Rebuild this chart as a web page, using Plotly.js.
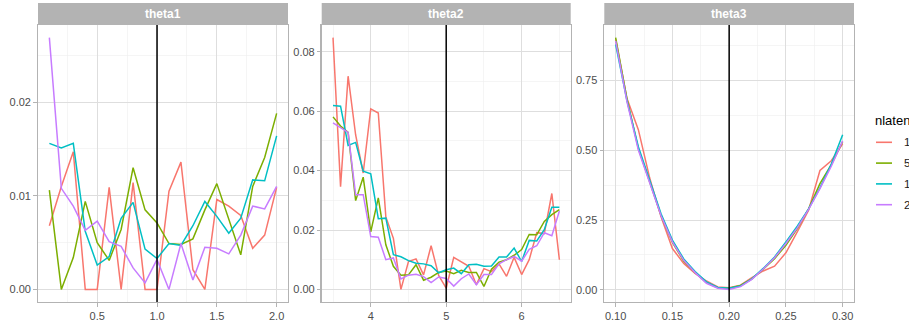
<!DOCTYPE html>
<html>
<head>
<meta charset="utf-8">
<script src="https://cdn.plot.ly/plotly-3.0.1.min.js"></script>
<style>html,body{margin:0;padding:0;background:#fff;}#chart{width:909px;height:322px;}</style>
</head>
<body>
<div id="chart"></div>
<script>
// ---------- data ----------
const nlatentLevels = ["1", "5", "10", "20"];
const seriesColors = ["#F8766D", "#7CAE00", "#00BFC4", "#C77CFF"];
const facetNames = ["theta1", "theta2", "theta3"];
const trueValues = [1, 5, 0.2];
const legendTitle = "nlatent";

const theta1X = [0.1,0.2,0.3,0.4,0.5,0.6,0.7,0.8,0.9,1.0,1.1,1.2,1.3,1.4,1.5,1.6,1.7,1.8,1.9,2.0];
const theta1_n1  = [0.0068,0.0110,0.0147,0,0,0.0109,0,0.0114,0,0,0.0105,0.0136,0.0021,0,0.0096,0.0089,0.0079,0.0044,0.0058,0.0109];
const theta1_n5  = [0.0106,0,0.0034,0.0094,0.0050,0.0031,0.0064,0.0130,0.0085,0.0071,0.0049,0.0048,0.0054,0.0085,0.0113,0.0075,0.0037,0.0110,0.0141,0.0188];
const theta1_n10 = [0.0156,0.0151,0.0156,0.0062,0.0026,0.0035,0.0076,0.0093,0.0043,0.0033,0.0049,0.0047,0.0068,0.0094,0.0078,0.0060,0.0076,0.0117,0.0116,0.0164];
const theta1_n20 = [0.0269,0.0108,0.0089,0.0063,0.0073,0.0051,0.0046,0.0023,0.0007,0.0032,0,0.0049,0.0010,0.0045,0.0044,0.0038,0.0058,0.0089,0.0086,0.0110];

const theta2X = [3.5,3.6,3.7,3.8,3.9,4.0,4.1,4.2,4.3,4.4,4.5,4.6,4.7,4.8,4.9,5.0,5.1,5.2,5.3,5.4,5.5,5.6,5.7,5.8,5.9,6.0,6.1,6.2,6.3,6.4,6.5];
const theta2_n1  = [0.0848,0.0346,0.0718,0.0520,0.0392,0.0608,0.0594,0.0244,0.0172,0.0000,0.0094,0.0103,0.0049,0.0147,0.0047,0.0004,0.0108,0.0092,0.0078,0.0016,0.0070,0.0060,0.0086,0.0044,0.0108,0.0050,0.0100,0.0191,0.0188,0.0323,0.0100];
const theta2_n5  = [0.0581,0.0550,0.0529,0.0299,0.0378,0.0194,0.0308,0.0150,0.0078,0.0048,0.0049,0.0083,0.0031,0.0041,0.0057,0.0062,0.0053,0.0064,0.0057,0.0057,0.0010,0.0068,0.0092,0.0100,0.0115,0.0134,0.0185,0.0184,0.0229,0.0252,0.0269];
const theta2_n10 = [0.0619,0.0617,0.0485,0.0495,0.0398,0.0389,0.0238,0.0240,0.0117,0.0110,0.0097,0.0088,0.0086,0.0080,0.0056,0.0066,0.0072,0.0053,0.0083,0.0085,0.0078,0.0079,0.0109,0.0109,0.0139,0.0094,0.0165,0.0163,0.0201,0.0277,0.0277];
const theta2_n20 = [0.0561,0.0544,0.0529,0.0319,0.0319,0.0178,0.0176,0.0100,0.0106,0.0035,0.0048,0.0051,0.0043,0.0023,0.0042,0.0037,0.0011,0.0036,0.0052,0.0016,0.0050,0.0050,0.0086,0.0100,0.0111,0.0095,0.0135,0.0147,0.0191,0.0181,0.0264];

const theta3X = [0.10,0.11,0.12,0.13,0.14,0.15,0.16,0.17,0.18,0.19,0.20,0.21,0.22,0.23,0.24,0.25,0.26,0.27,0.28,0.29,0.30];
const theta3_n1  = [0.896,0.684,0.573,0.400,0.262,0.148,0.095,0.059,0.032,0.011,0.008,0.017,0.044,0.068,0.085,0.133,0.208,0.285,0.427,0.462,0.522];
const theta3_n5  = [0.902,0.682,0.505,0.386,0.266,0.170,0.103,0.062,0.026,0.008,0.006,0.016,0.040,0.074,0.112,0.160,0.219,0.290,0.380,0.448,0.530];
const theta3_n10 = [0.878,0.676,0.512,0.392,0.272,0.178,0.111,0.066,0.029,0.009,0.006,0.014,0.040,0.077,0.118,0.172,0.228,0.290,0.365,0.450,0.555];
const theta3_n20 = [0.890,0.672,0.500,0.385,0.265,0.172,0.106,0.062,0.024,0.006,0.002,0.012,0.038,0.075,0.115,0.166,0.222,0.288,0.362,0.442,0.533];

const facetX = [theta1X, theta2X, theta3X];
const facetY = [
  [theta1_n1, theta1_n5, theta1_n10, theta1_n20],
  [theta2_n1, theta2_n5, theta2_n10, theta2_n20],
  [theta3_n1, theta3_n5, theta3_n10, theta3_n20]
];

// ---------- layout helpers ----------
const W = 909, H = 322;
const FONT = "Liberation Sans, Arial, Helvetica, sans-serif";
const panelPx = [[38, 288], [321.7, 570.7], [604.3, 854]];
const plotTop = 25, plotBottom = 302, stripTop = 3;
const yDom = [(H - plotBottom) / H, (H - plotTop) / H];
// legend geometry (px from top-left)
const legendTitlePos = {x: 873, y: 120};
const legendKeyX = [876, 892], legendLabelX = 902, legendRowY0 = 142.3, legendRowStep = 20.8;

function expandRange(arrs) {
  let lo = Infinity, hi = -Infinity;
  arrs.forEach(a => a.forEach(v => { if (v < lo) lo = v; if (v > hi) hi = v; }));
  const d = (hi - lo) * 0.05;
  return [lo - d, hi + d];
}

const xTicks = [{dtick: 0.5, minor: 0.25, fmt: ".1f"}, {dtick: 1, minor: 0.5, fmt: "d"}, {dtick: 0.05, minor: 0.025, fmt: ".2f"}];
const yTicks = [{dtick: 0.01, minor: 0.005}, {dtick: 0.02, minor: 0.01}, {dtick: 0.25, minor: 0.125}];

function baseAxis() {
  return {
    showline: true, mirror: true, linecolor: "#B3B3B3", linewidth: 1.3,
    showgrid: true, gridcolor: "#DEDEDE", gridwidth: 1,
    zeroline: false, ticks: "outside", ticklen: 3.5, tickwidth: 1, tickcolor: "#B3B3B3",
    tickfont: {family: FONT, size: 11, color: "#4D4D4D"},
    fixedrange: true
  };
}

const px2x = p => p / W, px2y = p => 1 - p / H;

const data = [];
const layout = {
  width: W, height: H,
  margin: {l: 0, r: 0, t: 0, b: 0, pad: 0, autoexpand: false},
  paper_bgcolor: "#FFFFFF", plot_bgcolor: "#FFFFFF",
  font: {family: FONT, color: "#1A1A1A"},
  showlegend: false,
  shapes: [], annotations: []
};

facetNames.forEach((name, f) => {
  const sfx = f === 0 ? "" : String(f + 1);
  layout["xaxis" + sfx] = Object.assign(baseAxis(), {
    domain: [panelPx[f][0] / W, panelPx[f][1] / W],
    anchor: "y" + sfx,
    range: expandRange([facetX[f]]),
    tick0: 0, dtick: xTicks[f].dtick, tickformat: xTicks[f].fmt,
    minor: {dtick: xTicks[f].minor, tick0: 0, showgrid: true, gridcolor: "#EEEEEE", gridwidth: 0.6, ticks: ""}
  });
  layout["yaxis" + sfx] = Object.assign(baseAxis(), {
    domain: yDom,
    anchor: "x" + sfx,
    range: expandRange(facetY[f]),
    tick0: 0, dtick: yTicks[f].dtick, tickformat: ".2f",
    minor: {dtick: yTicks[f].minor, tick0: 0, showgrid: true, gridcolor: "#EEEEEE", gridwidth: 0.6, ticks: ""}
  });

  nlatentLevels.forEach((lev, s) => {
    data.push({
      type: "scatter", mode: "lines",
      x: facetX[f], y: facetY[f][s],
      xaxis: "x" + sfx, yaxis: "y" + sfx,
      name: lev, legendgroup: lev,
      line: {color: seriesColors[s], width: 1.5},
      hoverinfo: "skip"
    });
  });

  // true-value reference line
  layout.shapes.push({
    type: "line", xref: "x" + sfx, yref: "y" + sfx + " domain",
    x0: trueValues[f], x1: trueValues[f], y0: 0, y1: 1,
    line: {color: "#000000", width: 1.5}, layer: "above"
  });
  // strip
  layout.shapes.push({
    type: "rect", xref: "x" + sfx + " domain", yref: "paper",
    x0: 0, x1: 1, y0: px2y(plotTop), y1: px2y(stripTop),
    fillcolor: "#B3B3B3", line: {width: 0}, layer: "above"
  });
  layout.annotations.push({
    xref: "x" + sfx + " domain", yref: "paper",
    x: 0.5, y: px2y((plotTop + stripTop) / 2 + 0.5),
    xanchor: "center", yanchor: "middle", showarrow: false,
    text: "<b>" + name + "</b>",
    font: {family: FONT, size: 12, color: "#FFFFFF"}
  });
});

// ---------- legend (ggplot-style, drawn at the right edge) ----------
layout.annotations.push({
  xref: "paper", yref: "paper", x: px2x(legendTitlePos.x), y: px2y(legendTitlePos.y),
  xanchor: "left", yanchor: "middle", showarrow: false,
  text: legendTitle, font: {family: FONT, size: 13, color: "#000000"}
});
nlatentLevels.forEach((lev, s) => {
  const yy = legendRowY0 + s * legendRowStep;
  layout.shapes.push({
    type: "line", xref: "paper", yref: "paper",
    x0: px2x(legendKeyX[0]), x1: px2x(legendKeyX[1]), y0: px2y(yy), y1: px2y(yy),
    line: {color: seriesColors[s], width: 1.6}
  });
  layout.annotations.push({
    xref: "paper", yref: "paper", x: px2x(legendLabelX), y: px2y(yy),
    xanchor: "left", yanchor: "middle", showarrow: false,
    text: lev, font: {family: FONT, size: 11.5, color: "#1A1A1A"}
  });
});

Plotly.newPlot("chart", data, layout, {displayModeBar: false, staticPlot: true});
</script>
</body>
</html>
